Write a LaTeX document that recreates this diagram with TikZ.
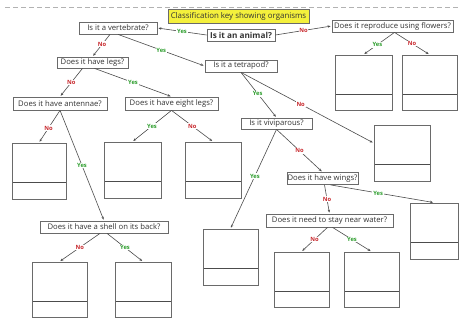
\documentclass[tikz,border=0pt]{standalone}
\usepackage{fontspec}
\setmainfont{Open Sans}
\usetikzlibrary{arrows.meta,calc}
\definecolor{boxline}{HTML}{6A6A6A}
\definecolor{yesgreen}{HTML}{2E9E2E}
\definecolor{nored}{HTML}{C8282D}
\definecolor{titleyellow}{HTML}{F4F03C}
\begin{document}
\begin{tikzpicture}[x=1pt,y=-1pt,
  q/.style={draw=boxline,line width=0.8pt,inner sep=0pt,font=\fontsize{7.7}{8}\selectfont,text=black!80},
  res/.style={draw=boxline,line width=0.8pt,inner sep=0pt,
    path picture={\draw[black!70,line width=1pt]
      ($(path picture bounding box.south west)!0.29!(path picture bounding box.north west)$) --
      ($(path picture bounding box.south east)!0.29!(path picture bounding box.north east)$);}},
  conn/.style={draw=black!70,line width=0.6pt,-{Stealth[length=3pt,width=2.4pt]},shorten >=1pt},
  yes/.style={font=\fontsize{5.8}{6}\selectfont\bfseries,text=yesgreen,fill=white,inner sep=0.8pt},
  no/.style={font=\fontsize{5.8}{6}\selectfont\bfseries,text=nored,fill=white,inner sep=0.8pt}
]
\useasboundingbox (0,0) rectangle (459,320);
\fill[white] (0,0) rectangle (459,320);
\draw[black!30,line width=0.6pt,dash pattern=on 5pt off 3pt] (5,7) -- (459,7);

% question nodes
\node[q,fill=titleyellow,font=\fontsize{7.9}{8}\selectfont,minimum width=141pt,minimum height=14pt] (title) at (238.5,16) {Classification key showing organisms};
\node[q,font=\fontsize{8.2}{8}\selectfont\bfseries,minimum width=68pt,minimum height=12pt] (animal) at (241,35) {Is it an animal?};
\node[q,minimum width=78pt,minimum height=12pt] (vert) at (118,28) {Is it a vertebrate?};
\node[q,minimum width=121pt,minimum height=12pt] (flow) at (392.5,26) {Does it reproduce using flowers?};
\node[q,minimum width=72pt,minimum height=12pt] (tetra) at (241,66) {Is it a tetrapod?};
\node[q,minimum width=71pt,minimum height=11pt] (legs) at (92.5,62.5) {Does it have legs?};
\node[q,minimum width=94pt,minimum height=13pt] (ant) at (60,103.5) {Does it have antennae?};
\node[q,minimum width=93pt,minimum height=13pt] (eight) at (171.5,103.5) {Does it have eight legs?};
\node[q,minimum width=71pt,minimum height=11pt] (vivi) at (276.5,123.5) {Is it viviparous?};
\node[q,minimum width=71pt,minimum height=12pt] (wings) at (322.5,178.5) {Does it have wings?};
\node[q,minimum width=127pt,minimum height=13pt] (water) at (329.5,220.5) {Does it need to stay near water?};
\node[q,minimum width=128pt,minimum height=12pt] (shell) at (104,227) {Does it have a shell on its back?};

% result boxes
\node[res,minimum width=57pt,minimum height=55pt] (F1) at (363.5,82.5) {};
\node[res,minimum width=55pt,minimum height=55pt] (F2) at (429.5,82.5) {};
\node[res,minimum width=54pt,minimum height=56pt] (A1) at (39,171) {};
\node[res,minimum width=57pt,minimum height=56pt] (E1) at (132.5,170) {};
\node[res,minimum width=56pt,minimum height=56pt] (E2) at (213,170) {};
\node[res,minimum width=56pt,minimum height=56pt] (T1) at (402,153) {};
\node[res,minimum width=55pt,minimum height=56pt] (V1) at (230.5,257) {};
\node[res,minimum width=48pt,minimum height=56pt] (WY) at (434,231) {};
\node[res,minimum width=55pt,minimum height=55pt] (W1) at (301.5,279.5) {};
\node[res,minimum width=55pt,minimum height=55pt] (W2) at (371.5,279.5) {};
\node[res,minimum width=55pt,minimum height=55pt] (S1) at (59.5,289.5) {};
\node[res,minimum width=56pt,minimum height=55pt] (S2) at (143,289.5) {};

% connectors
\draw[conn] (animal.west) -- node[yes]{Yes} (vert.east);
\draw[conn] (animal.east) -- node[no]{No} (flow.west);
\draw[conn] ([xshift=2pt]flow.south) -- node[yes,pos=0.55]{Yes} (F1.north);
\draw[conn] ([xshift=2pt]flow.south) -- node[no]{No} (F2.north);
\draw[conn] ([xshift=-8pt]vert.south) -- node[no,pos=0.45]{No} (legs.north);
\draw[conn] (vert.south) -- node[yes]{Yes} (tetra.west);
\draw[conn] ([xshift=-10pt]legs.south) -- node[no]{No} (ant.north);
\draw[conn] ([xshift=2pt]legs.south) -- node[yes]{Yes} (eight.north);
\draw[conn] (ant.south) -- node[no,pos=0.55]{No} (A1.north);
\draw[conn] (ant.south) -- node[yes]{Yes} (shell.north);
\draw[conn] (eight.south) -- node[yes]{Yes} (E1.north);
\draw[conn] (eight.south) -- node[no]{No} (E2.north);
\draw[conn] (tetra.south) -- node[yes,pos=0.47]{Yes} (vivi.north);
\draw[conn] (tetra.south) -- node[no,pos=0.45]{No} ([yshift=10pt]T1.west);
\draw[conn] (vivi.south) -- node[no]{No} (wings.north);
\draw[conn] (vivi.south) -- node[yes,pos=0.47]{Yes} (V1.north);
\draw[conn] ([xshift=2pt]wings.south) -- node[no]{No} (water.north);
\draw[conn] ([xshift=8pt]wings.south) -- node[yes,pos=0.46]{Yes} (WY.north);
\draw[conn] ([xshift=-2pt]water.south) -- node[no]{No} (W1.north);
\draw[conn] ([xshift=3pt]water.south) -- node[yes]{Yes} (W2.north);
\draw[conn] ([xshift=-4pt]shell.south) -- node[no]{No} (S1.north);
\draw[conn] ([xshift=3pt]shell.south) -- node[yes]{Yes} (S2.north);
\end{tikzpicture}
\end{document}
